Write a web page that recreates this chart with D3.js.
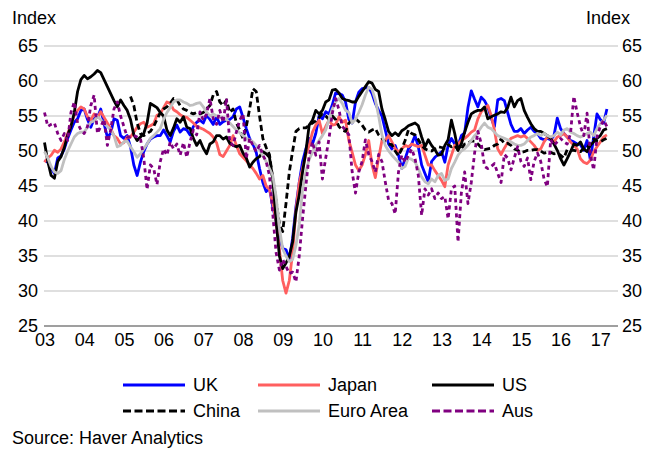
<!DOCTYPE html>
<html>
<head>
<meta charset="utf-8">
<script src="https://cdn.jsdelivr.net/npm/d3@7/dist/d3.min.js"></script>
<style>
  body { margin: 0; background: #fff; }
  svg text { font-family: "Liberation Sans", Arial, sans-serif; font-size: 18px; fill: #000; }
</style>
</head>
<body>
<svg id="chart" width="660" height="451"></svg>
<script>
// Manufacturing PMIs, monthly from Jan 2003 (one row per year)
const startYear = 2003;
const yTicks = [25, 30, 35, 40, 45, 50, 55, 60, 65];
const xTickYears = d3.range(2003, 2018);

const uk = [
  48.7, 48.4, 47.5, 46.8, 49.0, 49.3, 50.3, 51.8, 53.0, 54.1, 54.6, 55.8,
  56.0, 54.5, 53.4, 54.6, 54.8, 56.0, 53.9, 52.0, 52.5, 54.6, 54.4, 52.2,
  51.8, 52.2, 50.6, 48.0, 46.5, 48.4, 49.9, 51.0, 51.7, 52.0, 52.2, 52.2,
  53.0, 52.2, 51.3, 52.8, 53.7, 52.7, 53.2, 53.0, 52.3, 53.5, 54.1, 54.4,
  54.0, 55.1, 54.5, 53.8, 54.9, 53.8, 54.2, 54.4, 54.5, 54.9, 56.0, 56.3,
  54.8, 53.2, 51.8, 51.0, 49.8, 47.5, 45.5, 44.2, 44.7, 42.0, 40.0, 37.5,
  36.1, 35.9, 34.6, 37.5, 42.0, 45.5, 48.5, 50.3, 51.8, 51.0, 52.5, 55.0,
  54.6, 55.6, 55.3, 56.6, 58.3, 58.2, 58.0, 57.0, 54.5, 54.0, 57.0, 58.4,
  58.9, 59.0, 59.1, 58.2, 56.8, 55.8, 55.0, 53.0, 51.0, 50.3, 50.8, 49.4,
  47.5, 48.9, 50.3, 51.0, 52.2, 50.6, 48.0, 46.8, 45.6, 48.5, 49.1, 49.5,
  49.9, 48.4, 50.8, 51.8, 51.0, 50.8, 52.2, 52.6, 56.2, 58.6, 57.4, 56.3,
  57.7, 57.2, 56.3, 54.7, 53.5, 57.3, 57.5, 57.2, 55.5, 53.8, 52.8, 52.8,
  53.2, 52.5, 53.0, 53.4, 52.8, 52.5, 51.8, 51.6, 51.8, 51.6, 52.2, 54.7,
  53.2, 52.5, 52.0, 51.5, 51.3, 51.0, 50.9, 50.1, 51.5, 48.7, 52.0, 55.3,
  54.5, 54.0, 56.0
];

const japan = [
  48.4, 49.0, 49.4, 50.1, 49.8, 50.3, 51.3, 52.5, 53.7, 55.1, 55.8, 56.3,
  56.0, 54.9, 54.4, 55.3, 54.8, 55.6, 54.8, 54.0, 53.2, 52.2, 51.8, 51.0,
  51.2, 52.0, 52.0, 52.7, 53.4, 53.9, 54.1, 53.4, 53.6, 53.9, 55.1, 55.3,
  56.2, 57.0, 56.8, 55.9, 55.6, 55.2, 54.9, 54.8, 54.4, 54.0, 53.5, 53.3,
  53.1, 52.8, 52.5, 52.0, 51.2, 49.5, 49.2, 50.0, 50.8, 52.2, 50.8, 49.6,
  49.1, 48.6, 48.0, 47.5, 46.8, 46.0, 46.5, 45.0, 44.5, 42.5, 40.0, 36.0,
  31.5, 29.7, 31.5, 35.5, 41.5, 45.5, 47.5, 49.5, 50.8, 52.7, 53.7, 54.4,
  52.5, 53.5, 54.4, 53.7, 53.8, 54.9, 54.1, 54.4, 51.5, 49.8, 48.0, 47.2,
  48.0, 49.5, 51.5, 48.0, 46.2, 49.0, 51.5, 51.5, 52.2, 51.3, 50.3, 49.9,
  50.3, 50.8, 50.6, 51.0, 50.8, 50.6, 50.8, 49.4, 48.0, 48.0, 47.2, 46.5,
  45.8, 44.9, 48.0, 49.4, 50.8, 51.0, 51.5, 51.8, 52.2, 52.7, 53.0, 54.6,
  55.6, 56.0, 56.5, 55.1, 53.0, 50.3, 49.5, 50.4, 51.2, 51.8, 52.0, 52.2,
  52.0, 52.2, 51.8, 51.3, 50.8, 50.1, 50.3, 51.3, 52.0, 51.8, 51.3, 52.0,
  52.2, 52.5, 52.0, 51.3, 50.8, 50.3, 48.9, 48.4, 48.2, 48.7, 49.9, 50.6,
  51.3, 52.0, 52.3
];

const us = [
  51.2, 48.5, 46.5, 46.1, 48.5, 49.2, 50.5, 52.3, 53.5, 55.5, 58.5, 60.2,
  60.8, 60.3, 60.6, 61.0, 61.5, 61.2, 60.2, 59.2, 58.2, 57.2, 56.3, 57.3,
  56.5, 55.8, 54.5, 52.3, 51.5, 52.0, 52.5, 54.0, 56.8, 56.5, 56.2, 55.5,
  55.0, 53.0, 52.2, 53.3, 54.6, 54.1, 54.9, 53.4, 53.2, 51.8, 50.8, 51.5,
  50.4, 49.6, 51.0, 51.3, 52.2, 52.2, 51.7, 52.0, 51.1, 50.8, 50.6, 50.8,
  49.7, 49.0, 47.7, 48.4, 48.9, 49.2, 49.9, 49.6, 49.1, 46.0, 40.0, 35.0,
  33.2, 34.0, 35.0, 37.0, 41.3, 43.7, 47.0, 49.9, 53.7, 54.4, 55.8, 55.3,
  55.8, 57.0, 57.3, 58.7, 58.8, 58.3, 57.5, 57.3, 57.2, 57.0, 57.0, 57.8,
  58.5, 59.2, 59.9, 59.7, 58.8, 58.5, 56.0, 54.5, 52.8, 52.2, 52.6, 52.2,
  52.9, 53.2, 53.6, 53.8, 54.0, 53.6, 52.0, 50.6, 51.6, 50.8, 50.2, 49.4,
  49.5, 50.8, 51.6, 54.4, 52.5, 50.1, 51.0, 52.7, 54.1, 55.3, 55.6, 55.8,
  55.8, 56.3, 54.6, 54.9, 55.1, 55.3, 55.6, 55.5, 56.2, 57.7, 56.3, 57.2,
  57.5, 55.8, 54.8, 53.9, 53.2, 52.8, 52.8, 52.5, 52.2, 51.8, 51.0, 50.1,
  48.9, 48.0, 48.9, 49.9, 51.0, 50.8, 51.3, 50.3, 49.9, 50.8, 51.3, 51.8,
  52.2, 53.0, 53.2
];

const china = [
  null, null, null, null, null, null, null, null, null, null, null, null,
  null, null, null, null, null, null, null, null, null, null, null, null,
  null, null, 57.8, 56.5, 54.0, 52.5, 52.2, 52.5, 52.8, 53.5, 54.5, 55.5,
  56.0, 56.3, 56.8, 57.5, 57.3, 56.5, 56.0, 55.8, 55.5, 55.3, 55.5, 55.3,
  55.5, 56.0, 56.5, 58.0, 58.5, 57.0, 56.5, 57.3, 55.5, 56.0, 54.0, 53.0,
  51.8, 53.5, 56.0, 58.9, 58.5, 55.0, 51.8, 50.5, 49.5, 46.0, 43.0, 39.5,
  38.5, 42.5, 47.0, 50.0, 52.8, 53.2, 53.3, 53.3, 53.7, 54.0, 54.3, 54.8,
  55.3, 55.0, 54.5, 55.0, 54.5, 53.5, 53.0, 52.8, 54.0, 54.4, 54.6, 54.2,
  53.7, 53.0, 52.7, 53.0, 53.2, 52.3, 51.8, 51.3, 51.0, 50.9, 50.0, 49.3,
  50.3, 51.5, 53.0, 52.5, 52.3, 51.6, 50.8, 50.3, 50.1, 50.0, 50.3, 50.6,
  50.5, 50.4, 50.9, 50.6, 50.8, 50.1, 50.3, 51.0, 51.1, 51.4, 51.4, 51.0,
  50.5, 50.2, 50.3, 50.4, 50.8, 51.0, 51.7, 51.1, 51.1, 50.8, 50.3, 50.1,
  49.8, 49.9, 50.1, 50.1, 50.2, 50.2, 50.0, 49.7, 49.8, 49.8, 49.6, 49.7,
  49.4, 49.0, 50.2, 50.1, 50.1, 50.0, 49.9, 50.4, 50.4, 51.2, 51.7, 51.4,
  51.3, 51.6, 51.8
];

const euroArea = [
  49.9, 49.0, 47.8, 47.0, 46.8, 47.2, 48.8, 50.0, 51.0, 52.0, 52.5, 52.7,
  52.7, 53.4, 54.1, 54.3, 54.9, 54.5, 53.9, 53.5, 53.0, 52.2, 50.6, 50.8,
  51.3, 51.4, 50.6, 49.9, 49.1, 49.6, 50.3, 51.0, 51.8, 52.2, 52.7, 53.2,
  54.5, 55.5, 56.2, 57.0, 57.3, 57.3, 57.0, 56.8, 56.5, 56.6, 56.8, 56.9,
  56.3, 55.6, 55.0, 55.3, 55.0, 54.9, 54.6, 54.5, 54.0, 53.5, 53.0, 52.6,
  52.2, 51.8, 51.6, 51.3, 50.8, 50.2, 49.3, 48.5, 47.5, 46.5, 43.5, 39.0,
  36.0, 35.0, 34.2, 34.5, 36.5, 39.5, 44.5, 47.0, 48.8, 49.8, 50.8, 51.5,
  52.2, 53.0, 54.5, 56.0, 57.0, 57.5, 56.8, 55.8, 55.5, 54.0, 54.5, 55.5,
  56.6, 58.0, 59.1, 58.8, 57.3, 55.0, 52.3, 50.8, 50.0, 49.4, 48.9, 48.4,
  47.5, 47.8, 49.0, 48.8, 48.4, 47.5, 46.3, 45.6, 45.3, 46.0, 45.6, 46.5,
  46.8, 45.8, 46.0, 47.5, 48.4, 49.4, 50.0, 50.3, 50.8, 51.5, 52.2, 52.7,
  53.4, 54.0, 53.4, 53.2, 52.7, 52.2, 52.0, 51.8, 51.6, 51.3, 51.0, 50.8,
  50.8, 51.0, 51.5, 52.0, 52.2, 52.5, 52.2, 52.5, 52.2, 52.0, 52.2, 52.7,
  52.3, 53.0, 53.2, 52.7, 52.5, 52.2, 52.0, 52.2, 52.5, 52.7, 52.2, 53.2,
  53.9, 54.4, 55.1
];

const aus = [
  55.5, 53.5, 53.8, 54.0, 52.5, 51.5, 52.5, 51.5, 55.5, 57.0, 54.0, 53.0,
  52.5, 53.5, 56.5, 58.0, 52.5, 53.5, 54.5, 50.8, 53.0, 56.0, 57.0, 55.0,
  53.5, 52.0, 52.0, 52.2, 52.0, 51.8, 49.0, 44.5, 48.0, 47.5, 45.2, 48.5,
  50.3, 49.4, 51.3, 50.3, 51.0, 49.4, 51.2, 49.1, 51.3, 53.0, 52.3, 55.6,
  54.4, 55.3, 57.5, 54.6, 53.8, 55.8, 54.1, 57.5, 51.3, 50.8, 52.7, 54.4,
  55.3, 48.9, 51.8, 50.8, 49.9, 50.8, 49.4, 48.5, 46.5, 41.0, 35.5, 33.0,
  34.5, 33.5, 32.5, 32.7, 31.3, 35.0, 40.3, 45.0, 49.4, 51.3, 49.4, 51.3,
  46.0, 49.0, 51.8, 55.4, 57.5, 55.9, 53.5, 53.0, 52.3, 47.0, 44.0, 47.0,
  48.5, 51.6, 49.5, 48.5, 47.0, 49.5, 48.5, 45.6, 43.0, 42.5, 41.0, 47.0,
  49.4, 48.4, 49.4, 50.3, 48.9, 46.5, 40.8, 44.6, 43.7, 44.6, 43.2, 44.0,
  43.2, 43.5, 40.3, 44.6, 45.0, 37.0, 44.0, 47.0, 42.5, 45.5, 49.7, 52.8,
  51.1, 47.8, 47.5, 47.8, 48.2, 46.8, 45.5, 49.5, 49.0, 47.3, 49.0, 50.6,
  48.5, 47.8, 49.0, 45.9, 48.5, 49.7, 48.5, 46.0, 44.9, 51.6, 50.8, 51.3,
  51.8, 51.3, 51.0, 52.5, 57.8, 55.5, 53.5, 52.2, 55.4, 49.5, 47.3, 52.0,
  53.5, 54.4, 53.5
];

// drawing order follows the legend; later series sit on top
const series = [
  { name: "UK",        values: uk,       color: "#0000ff", dash: null },
  { name: "Japan",     values: japan,    color: "#ff5f5f", dash: null },
  { name: "US",        values: us,       color: "#000000", dash: null },
  { name: "China",     values: china,    color: "#000000", dash: "6,3.5" },
  { name: "Euro Area", values: euroArea, color: "#c0c0c0", dash: null },
  { name: "Aus",       values: aus,      color: "#800080", dash: "4,3.5" }
];

const svg = d3.select("#chart");
const plotLeft = 44, plotRight = 618;

const x = d3.scaleLinear().domain([2003, 2017.446]).range([44.5, plotRight]);
const y = d3.scaleLinear().domain([25, 65]).range([326, 46]);

// horizontal gridlines, the 25 line is the darker base line
svg.append("g")
  .selectAll("line")
  .data(yTicks)
  .enter().append("line")
    .attr("x1", plotLeft)
    .attr("x2", plotRight)
    .attr("y1", d => y(d))
    .attr("y2", d => y(d))
    .attr("stroke", d => d === 25 ? "#404040" : "#d4d4d4")
    .attr("stroke-width", d => d === 25 ? 1.2 : 1.6);

// y labels on both sides
const yLeft = svg.append("g")
  .attr("transform", "translate(" + (plotLeft - 6) + ",0)")
  .call(d3.axisLeft(y).tickValues(yTicks).tickSize(0).tickPadding(0));
const yRight = svg.append("g")
  .attr("transform", "translate(" + (plotRight + 4) + ",0)")
  .call(d3.axisRight(y).tickValues(yTicks).tickSize(0).tickPadding(0));

// x labels: two digit years
const xAxis = svg.append("g")
  .attr("transform", "translate(0,333)")
  .call(d3.axisBottom(x).tickValues(xTickYears)
    .tickFormat(d => String(d).slice(2)).tickSize(0).tickPadding(0));

[yLeft, yRight, xAxis].forEach(g => {
  g.select(".domain").remove();
  g.selectAll("text").attr("font-size", null).attr("font-family", null);
});

svg.append("text").attr("x", 12).attr("y", 24).text("Index");
svg.append("text").attr("x", 630).attr("y", 24).attr("text-anchor", "end").text("Index");

// the lines
const line = d3.line()
  .defined(d => d != null)
  .x((d, i) => x(startYear + i / 12))
  .y(d => y(d));

svg.append("g")
  .selectAll("path")
  .data(series)
  .enter().append("path")
    .attr("d", d => line(d.values))
    .attr("fill", "none")
    .attr("stroke", d => d.color)
    .attr("stroke-width", 2.8)
    .attr("stroke-linejoin", "round")
    .attr("stroke-dasharray", d => d.dash);

// legend, three per row
const legend = svg.append("g")
  .selectAll("g")
  .data(series)
  .enter().append("g")
    .attr("transform", (d, i) => "translate(" + [123, 258, 432][i % 3] + "," + (i < 3 ? 385 : 411) + ")");

legend.append("line")
  .attr("x1", 0).attr("x2", 62)
  .attr("stroke", d => d.color)
  .attr("stroke-width", 3)
  .attr("stroke-dasharray", d => d.dash ? "8,3.5" : null);

legend.append("text")
  .attr("x", 70)
  .attr("y", 6)
  .text(d => d.name);

svg.append("text").attr("x", 12).attr("y", 444).text("Source: Haver Analytics");
</script>
</body>
</html>
